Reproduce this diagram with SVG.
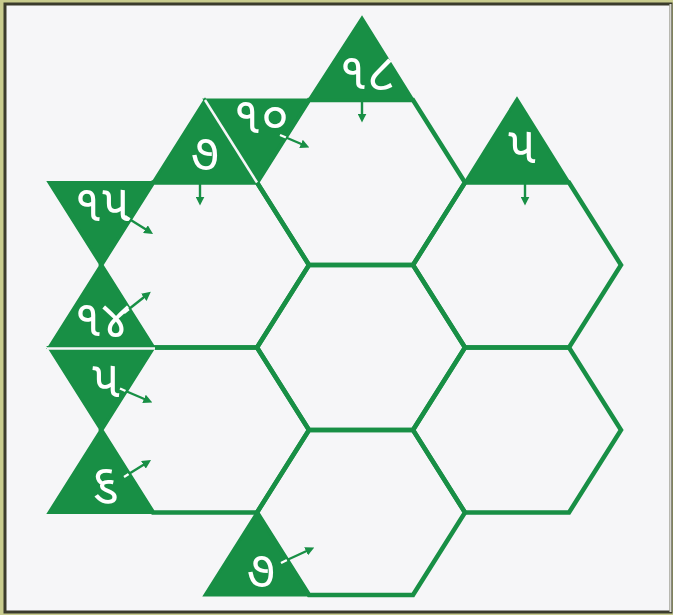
<svg xmlns="http://www.w3.org/2000/svg" width="673" height="615" viewBox="0 0 673 615">
<defs>
<style>
.hex{fill:none;stroke:#188f45;stroke-width:4.5;stroke-linejoin:miter}
.tri{fill:#188f45;stroke:#188f45;stroke-width:3;stroke-linejoin:miter}
.sep{stroke:#f6f6f8;stroke-width:2.5}
.lbl{fill:#ffffff;font-family:"Noto Sans Gujarati","Lohit Gujarati","Shruti","Noto Sans","DejaVu Sans",sans-serif;font-size:51px;text-anchor:middle}
.arr{stroke:#188f45;stroke-width:2.4;fill:none;marker-end:url(#ah)}
.tail{stroke:#ffffff;stroke-width:2.4;fill:none}
</style>
<marker id="ah" viewBox="0 0 10 10" refX="6" refY="5" markerWidth="9" markerHeight="9" orient="auto" markerUnits="userSpaceOnUse">
<path d="M0,0 L10,5 L0,10 z" fill="#188f45"/>
</marker>
</defs>
<rect x="0" y="0" width="673" height="615" fill="#c9cc8e"/>
<rect x="5" y="4" width="666" height="608" fill="#f6f6f8" stroke="#3b3b2c" stroke-width="3"/>
<line x1="670.5" y1="4" x2="670.5" y2="612" stroke="#d8d8d0" stroke-width="2"/>

<g id="grid">
<polygon class="hex" points="101,265 153,182.5 257,182.5 309,265 257,347.5 153,347.5"/>
<polygon class="hex" points="101,430 153,347.5 257,347.5 309,430 257,512.5 153,512.5"/>
<polygon class="hex" points="257,182.5 309,100 413,100 465,182.5 413,265 309,265"/>
<polygon class="hex" points="257,347.5 309,265 413,265 465,347.5 413,430 309,430"/>
<polygon class="hex" points="257,512.5 309,430 413,430 465,512.5 413,595 309,595"/>
<polygon class="hex" points="413,265 465,182.5 569,182.5 621,265 569,347.5 465,347.5"/>
<polygon class="hex" points="413,430 465,347.5 569,347.5 621,430 569,512.5 465,512.5"/>
</g>

<g id="clue-18">
<polygon class="tri" points="362,18 309,100 413,100"/>
<text class="lbl" x="367" y="89">૧૮</text>
</g>
<g id="clue-7-top">
<polygon class="tri" points="205,100 153,182.5 257,182.5"/>
<text class="lbl" x="205" y="170">૭</text>
</g>
<g id="clue-10">
<polygon class="tri" points="205,100 309,100 257,182.5"/>
<text class="lbl" x="261" y="133">૧૦</text>
</g>
<g id="clue-5-right">
<polygon class="tri" points="517,99 465,182.5 569,182.5"/>
<text class="lbl" x="522" y="163">૫</text>
</g>
<g id="clue-15">
<polygon class="tri" points="49,182.5 153,182.5 101,265"/>
<text class="lbl" x="102" y="221">૧૫</text>
</g>
<g id="clue-14">
<polygon class="tri" points="101,265 49,347.5 153,347.5"/>
<text class="lbl" x="102" y="336">૧૪</text>
</g>
<g id="clue-5-left">
<polygon class="tri" points="49,347.5 153,347.5 101,430"/>
<text class="lbl" x="106" y="397">૫</text>
</g>
<g id="clue-6">
<polygon class="tri" points="101,430 49,512.5 153,512.5"/>
<text class="lbl" x="105" y="500">૬</text>
</g>
<g id="clue-7-bottom">
<polygon class="tri" points="257,512.5 205,595 309,595"/>
<text class="lbl" x="261" y="587">૭</text>
</g>

<g id="separators">
<line class="sep" x1="205" y1="100" x2="257" y2="182.5"/>
<line class="sep" x1="47" y1="348.5" x2="155" y2="348.5"/>
</g>

<g id="connectors">
<line class="arr" x1="362" y1="101" x2="362" y2="119"/>
<line class="arr" x1="200" y1="184" x2="200" y2="202"/>
<line class="arr" x1="525" y1="184" x2="525" y2="202"/>
<line class="tail" x1="280" y1="135" x2="286" y2="137.5"/>
<line class="arr" x1="286" y1="137.5" x2="306" y2="146"/>
<line class="tail" x1="125" y1="216" x2="130" y2="219.5"/>
<line class="arr" x1="130" y1="219.5" x2="150" y2="232"/>
<line class="tail" x1="124" y1="313" x2="129" y2="309"/>
<line class="arr" x1="129" y1="309" x2="148" y2="294"/>
<line class="tail" x1="120" y1="388.5" x2="125.6" y2="391"/>
<line class="arr" x1="125.6" y1="391" x2="149" y2="401"/>
<line class="tail" x1="124" y1="477" x2="128.7" y2="474"/>
<line class="arr" x1="128.7" y1="474" x2="148" y2="462"/>
<line class="tail" x1="281" y1="563" x2="287" y2="560"/>
<line class="arr" x1="287" y1="560" x2="311" y2="549"/>
</g>
</svg>
